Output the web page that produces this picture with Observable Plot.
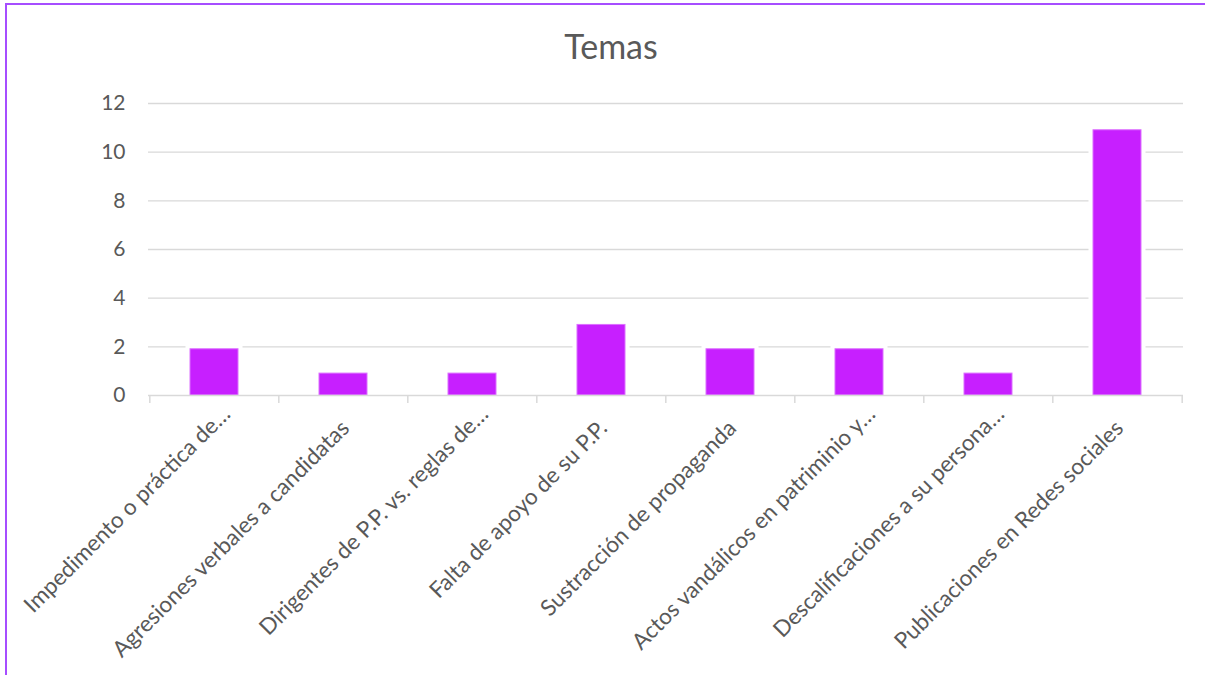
<!DOCTYPE html>
<html>
<head>
<meta charset="utf-8">
<script src="https://cdn.jsdelivr.net/npm/d3@7"></script>
<script src="https://cdn.jsdelivr.net/npm/@observablehq/plot@0.6"></script>
<style>
  html, body { margin: 0; padding: 0; background: #fff; }
  #page { position: relative; width: 1205px; height: 675px; overflow: hidden; font-family: Lato, "Open Sans", sans-serif; }
  #bt { position: absolute; left: 5px; top: 3px; width: 1200px; height: 2px; background: #a64dff; z-index: 5; }
  #bl { position: absolute; left: 5px; top: 3px; width: 2px; height: 672px; background: #a64dff; z-index: 5; }
  #title { position: absolute; left: 0; top: 0; width: 1222px; height: 80px; text-align: center;
           font-size: 34px; color: #595959; line-height: 80px; padding-top: 6px; box-sizing: border-box; }
  #chart { position: absolute; left: 0; top: 80px; }
</style>
</head>
<body>
<div id="page">
  <div id="title">Temas</div>
  <div id="chart"></div>
  <div id="bt"></div>
  <div id="bl"></div>
</div>
<script>
const categories = [
  "Impedimento o práctica de…",
  "Agresiones verbales a candidatas",
  "Dirigentes de P.P. vs. reglas de…",
  "Falta de apoyo de su P.P.",
  "Sustracción de propaganda",
  "Actos vandálicos en patriminio y…",
  "Descalificaciones a su persona…",
  "Publicaciones en Redes sociales"
];
const values = [1.9, 0.9, 0.9, 2.9, 1.9, 1.9, 0.9, 10.9];
const yTicks = [0, 2, 4, 6, 8, 10, 12];

const data = categories.map((c, i) => ({category: c, value: values[i]}));
const truncated = categories.filter(c => c.endsWith("…"));
const full = categories.filter(c => !c.endsWith("…"));

const W = 1205, H = 595, ML = 148, MR = 22, MT = 23, MB = 280;
const step = (W - ML - MR) / categories.length;
const barColor = "#c71fff";
const gridColor = "#d9d9d9";

const chart = Plot.plot({
  width: W, height: H,
  marginLeft: ML, marginRight: MR, marginTop: MT, marginBottom: MB,
  style: {fontFamily: "Lato, 'Open Sans', sans-serif", fontSize: "20px", color: "#595959", background: "transparent"},
  x: {domain: categories, paddingInner: 0.63, paddingOuter: 0.315, axis: null},
  y: {domain: [0, 12], axis: null},
  marks: [
    Plot.ruleY(yTicks.filter(d => d > 0), {stroke: gridColor, strokeWidth: 1.4}),
    Plot.barY(data, {x: "category", y: "value", fill: "white", stroke: "white", strokeWidth: 9}),
    Plot.barY(data, {x: "category", y: "value", fill: barColor, stroke: "#dc70ff", strokeWidth: 1}),
    Plot.ruleY([0], {stroke: gridColor, strokeWidth: 1.6}),
    Plot.axisY({ticks: yTicks, tickSize: 0, tickPadding: 23, fontSize: 21, label: null}),
    Plot.axisX({tickSize: 8, tickFormat: () => "", dx: -step / 2, stroke: gridColor, strokeWidth: 1.5, label: null}),
    Plot.axisX({ticks: [categories[categories.length - 1]], tickSize: 8, tickFormat: () => "", dx: step / 2, stroke: gridColor, strokeWidth: 1.5, label: null}),
    Plot.text(full, {x: d => d, y: 0, text: d => d, rotate: -45, textAnchor: "end", dx: 2, dy: 29, fontSize: 22.5, fill: "#595959"}),
    Plot.text(truncated, {x: d => d, y: 0, text: d => d, rotate: -45, textAnchor: "end", dx: 12, dy: 15, fontSize: 22.5, fill: "#595959"})
  ]
});
document.getElementById("chart").appendChild(chart);
</script>
</body>
</html>
